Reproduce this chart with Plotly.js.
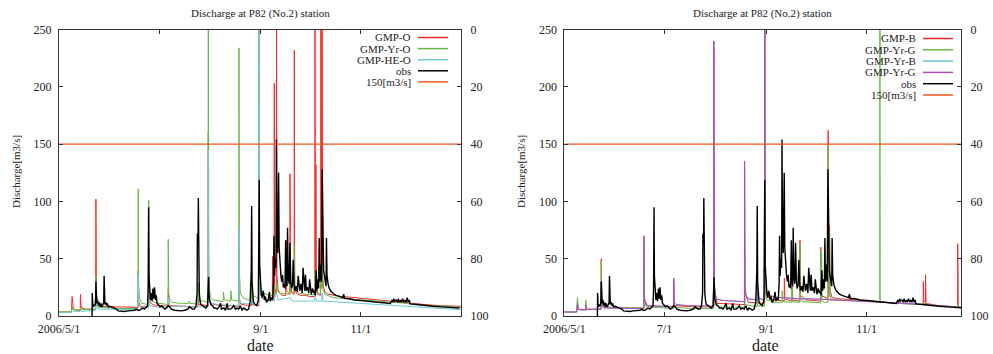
<!DOCTYPE html>
<html>
<head>
<meta charset="utf-8">
<script src="https://cdn.plot.ly/plotly-3.0.1.min.js"></script>
<style>html,body{margin:0;padding:0;background:#fff;}#chart{width:993px;height:354px;}</style>
</head>
<body>
<div id="chart"></div>
<script>
// ---------- DATA (time "MM-DD HH" in 2006, discharge m3/s) ----------
const tickVals = ["2006-05-01", "2006-07-01", "2006-09-01", "2006-11-01"];
const tickText = ["2006/5/1", "7/1", "9/1", "11/1"];
const leftNames = ["GMP-O", "GMP-Yr-O", "GMP-HE-O", "obs", "150[m3/s]"];
const rightNames = ["GMP-B", "GMP-Yr-G", "GMP-Yr-B", "GMP-Yr-G", "obs", "150[m3/s]"];
const thresholdValue = [150, 150];

const obs = [["05-21 04",0],["05-21 06",20],["05-21 14",9],["05-22 00",8],["05-22 12",10],["05-23 00",9],["05-23 08",16],["05-23 12",30],["05-23 18",13],["05-24 00",11],["05-24 12",14],["05-25 00",9],["05-25 12",12],["05-26 00",8],["05-26 12",11],["05-27 00",8],["05-27 12",9],["05-28 06",12],["05-28 12",35],["05-28 18",13],["05-29 00",10],["05-29 12",12],["05-30 00",9],["05-30 12",11],["05-31 00",8],["06-01 00",8.5],["06-02 00",8],["06-03 00",7.5],["06-04 00",7],["06-05 00",6],["06-06 00",4.5],["06-08 00",4],["06-10 00",4],["06-12 00",4.5],["06-14 00",4.5],["06-16 00",5],["06-17 00",6],["06-18 00",5],["06-19 00",5],["06-20 00",6],["06-21 00",7],["06-22 00",6],["06-23 00",8],["06-24 00",9],["06-24 08",25],["06-24 11",72],["06-24 13",60],["06-24 15",95],["06-24 20",35],["06-25 06",18],["06-25 18",14],["06-26 06",20],["06-26 18",13],["06-27 06",24],["06-27 18",15],["06-28 06",25],["06-28 18",14],["06-29 06",18],["06-29 18",11],["06-30 12",10],["07-01 12",8],["07-02 12",9],["07-03 12",7],["07-04 12",6],["07-05 12",7],["07-06 12",9],["07-07 12",8],["07-08 12",6],["07-10 12",5],["07-12 12",4.5],["07-14 12",4.5],["07-16 12",5],["07-18 12",6],["07-19 12",8],["07-20 12",7],["07-21 12",6],["07-22 12",6],["07-23 12",9],["07-24 04",20],["07-24 08",72],["07-24 12",45],["07-24 18",65],["07-24 22",103],["07-25 04",35],["07-25 12",20],["07-26 00",13],["07-26 12",10],["07-27 12",9],["07-28 12",8],["07-29 12",7],["07-30 12",9],["07-31 04",34],["07-31 12",16],["08-01 00",12],["08-01 12",10],["08-02 12",9],["08-03 12",7],["08-04 12",7],["08-05 12",6],["08-06 12",8],["08-07 12",11],["08-08 00",6],["08-09 12",7],["08-10 12",5],["08-11 12",11],["08-12 00",6],["08-13 12",6],["08-14 12",7],["08-15 12",9],["08-16 12",6],["08-17 12",7],["08-18 12",6],["08-19 12",9],["08-20 12",5],["08-21 12",7],["08-22 12",6],["08-23 12",5],["08-24 12",6],["08-25 12",12],["08-26 04",40],["08-26 10",96],["08-26 16",30],["08-27 00",18],["08-27 12",12],["08-28 12",10],["08-29 12",9],["08-30 12",14],["08-30 20",55],["08-31 00",119],["08-31 06",45],["08-31 18",28],["09-01 06",20],["09-01 18",16],["09-02 12",22],["09-03 06",14],["09-03 18",17],["09-04 12",12],["09-05 12",14],["09-06 06",21],["09-06 18",13],["09-07 12",16],["09-08 06",14],["09-08 18",30],["09-09 00",70],["09-09 08",35],["09-09 18",50],["09-10 06",42],["09-10 12",154],["09-10 18",80],["09-11 06",55],["09-11 20",125],["09-12 04",60],["09-12 18",42],["09-13 06",35],["09-13 18",30],["09-14 06",36],["09-14 18",25],["09-15 06",28],["09-15 18",24],["09-16 03",66],["09-16 12",30],["09-17 00",26],["09-17 07",77],["09-17 16",35],["09-18 06",28],["09-18 18",64],["09-19 06",30],["09-19 18",24],["09-20 06",27],["09-20 18",49],["09-21 06",28],["09-21 18",22],["09-22 12",26],["09-23 06",21],["09-23 18",35],["09-24 06",24],["09-24 18",22],["09-25 12",28],["09-26 06",20],["09-26 18",42],["09-27 06",25],["09-27 18",22],["09-28 06",36],["09-28 18",22],["09-29 12",25],["09-30 06",20],["09-30 18",32],["10-01 06",22],["10-01 18",19],["10-02 12",24],["10-03 06",20],["10-03 18",22],["10-04 06",18],["10-04 18",40],["10-05 06",22],["10-05 18",32],["10-06 06",24],["10-06 14",68],["10-06 22",30],["10-07 12",45],["10-08 00",30],["10-08 10",128],["10-08 18",55],["10-09 06",40],["10-09 18",35],["10-10 06",30],["10-10 18",26],["10-11 00",68],["10-11 08",35],["10-12 00",28],["10-12 12",25],["10-13 12",22],["10-14 12",20],["10-15 12",19],["10-17 00",18],["10-19 00",17],["10-21 00",16],["10-21 12",19],["10-22 00",15.5],["10-25 00",15],["10-28 00",14],["11-01 00",13.5],["11-05 00",13],["11-10 00",12],["11-15 00",11.5],["11-19 00",11],["11-20 00",14],["11-20 12",12],["11-21 00",15],["11-21 12",13],["11-22 12",14],["11-23 06",12],["11-23 18",15],["11-24 12",12],["11-25 06",14],["11-25 18",12],["11-26 12",15],["11-27 06",12],["11-27 18",14],["11-28 12",12],["11-29 06",16],["11-29 18",12],["11-30 12",14],["12-01 00",10.5],["12-05 00",10],["12-10 00",9],["12-15 00",8.5],["12-20 00",8],["12-25 00",7.5],["12-31 00",7]];

const gmpO = [["05-01 00",3.5],["05-08 12",3.5],["05-09 00",17],["05-09 06",9],["05-09 10",14],["05-09 18",7],["05-10 12",5.5],["05-12 00",5],["05-13 22",5],["05-14 02",19],["05-14 10",9],["05-15 00",7],["05-17 00",6],["05-20 00",6],["05-23 08",6],["05-23 12",102],["05-23 18",22],["05-24 06",13],["05-25 00",10],["05-27 00",8.5],["05-30 00",8],["06-05 00",8],["06-12 00",7.5],["06-18 04",7.5],["06-18 07",40],["06-18 14",12],["06-19 12",9],["06-21 00",8],["06-24 12",8],["06-24 16",60],["06-25 00",15],["06-26 00",11],["06-28 00",9.5],["07-01 00",9],["07-06 12",8.5],["07-06 14",25],["07-07 00",10],["07-08 00",9],["07-15 00",8.5],["07-24 18",8],["07-24 22",18],["07-25 06",10],["07-30 20",9],["07-31 00",160],["07-31 06",20],["08-01 00",12],["08-03 00",10],["08-10 00",9],["08-18 14",8.5],["08-18 17",60],["08-19 00",14],["08-20 00",10],["08-26 06",9],["08-26 10",25],["08-26 18",10],["08-30 20",9],["08-31 00",300],["08-31 06",30],["09-01 00",18],["09-03 00",15],["09-05 00",14],["09-08 00",14],["09-08 04",52],["09-08 10",18],["09-09 02",16],["09-09 05",203],["09-09 10",25],["09-10 10",19],["09-10 14",300],["09-10 20",35],["09-11 12",23],["09-12 12",20],["09-14 00",18],["09-16 04",18],["09-16 08",66],["09-16 14",22],["09-18 16",19],["09-18 19",124],["09-19 02",26],["09-20 00",20],["09-21 07",19],["09-21 10",232],["09-21 16",26],["09-22 12",20],["09-25 00",18],["09-28 00",18],["10-01 00",17],["10-03 22",17],["10-04 00",300],["10-04 06",30],["10-04 12",20],["10-04 14",132],["10-04 20",25],["10-05 12",19],["10-07 10",18],["10-07 14",300],["10-07 22",40],["10-08 04",30],["10-08 08",300],["10-08 16",35],["10-09 06",25],["10-10 00",21],["10-12 00",19],["10-15 00",18],["10-20 00",17],["10-25 00",16.5],["11-01 00",15.5],["11-10 00",14],["11-20 00",12.5],["12-01 00",11],["12-10 00",10],["12-20 00",9],["12-31 23",8.5]];

const gmpYrO = [["05-01 00",3.5],["05-08 12",3.5],["05-09 00",8],["05-09 12",5.5],["05-13 22",5],["05-14 02",8],["05-14 12",5.5],["05-20 00",5.5],["05-23 08",6],["05-23 12",35],["05-23 20",10],["05-25 00",7.5],["05-30 00",7],["06-10 00",6.5],["06-18 04",6.5],["06-18 07",111],["06-18 12",28],["06-19 00",15],["06-20 12",11],["06-24 12",10],["06-24 16",101],["06-25 00",22],["06-26 00",15],["06-28 00",12],["07-01 00",11],["07-06 12",10],["07-06 14",67],["07-06 20",20],["07-07 12",14],["07-09 00",12],["07-14 00",11],["07-19 00",11],["07-19 06",13],["07-19 18",11],["07-24 18",10.5],["07-24 22",29],["07-25 08",14],["07-30 20",12],["07-31 00",320],["07-31 06",40],["07-31 18",22],["08-01 12",16],["08-03 00",14],["08-06 00",13],["08-09 00",12.5],["08-09 06",21],["08-09 18",14],["08-13 12",13],["08-13 18",22],["08-14 06",14],["08-18 14",13],["08-18 17",234],["08-18 23",40],["08-19 12",20],["08-21 00",16],["08-24 00",14],["08-26 06",13.5],["08-26 10",38],["08-26 20",18],["08-30 20",15],["08-31 00",300],["08-31 06",45],["09-01 00",26],["09-02 00",21],["09-04 00",19],["09-07 00",18],["09-09 02",18],["09-09 05",26],["09-09 12",20],["09-10 10",19.5],["09-10 14",30],["09-11 00",22],["09-12 12",20],["09-15 00",19.5],["09-18 16",19],["09-18 19",36],["09-19 06",21],["09-21 07",20],["09-21 10",62],["09-21 18",24],["09-24 00",20],["09-28 00",19],["10-03 22",18.5],["10-04 00",40],["10-04 06",22],["10-07 10",19],["10-07 14",45],["10-07 22",24],["10-08 08",45],["10-08 16",24],["10-09 06",21],["10-10 00",19],["10-15 00",16],["10-25 00",15],["11-10 00",13],["11-25 00",11.5],["12-10 00",9.5],["12-31 23",7.5]];

const gmpHEO = [["05-01 00",3],["05-08 12",3],["05-09 00",5],["05-10 00",4],["05-13 22",4],["05-14 02",5],["05-15 00",4],["05-20 00",4.5],["05-23 08",5],["05-23 12",30],["05-23 18",8],["05-25 00",6],["06-10 00",5.5],["06-18 04",5.5],["06-18 07",36],["06-18 14",10],["06-19 12",7.5],["06-24 12",7],["06-24 16",20],["06-25 06",9],["07-01 00",7.5],["07-06 12",7],["07-06 14",16],["07-07 06",8.5],["07-20 00",8],["07-30 20",8],["07-31 00",145],["07-31 06",22],["08-01 00",12],["08-05 00",10],["08-18 14",9],["08-18 17",77],["08-18 23",15],["08-20 00",11],["08-26 06",10.5],["08-26 10",15],["08-27 00",10.5],["08-30 20",10],["08-31 00",300],["08-31 06",35],["09-01 00",18],["09-03 00",14],["09-09 02",13],["09-09 05",15],["09-10 14",20],["09-11 12",14],["09-18 19",16],["09-20 00",13],["10-03 22",13],["10-04 00",18],["10-05 00",13],["10-08 04",13],["10-08 08",20],["10-09 00",13],["10-15 00",12.5],["11-01 00",11],["11-15 00",9.5],["12-01 00",8],["12-15 00",7],["12-31 23",5.5]];

const gmpB = [["05-01 00",3.5],["05-08 12",3.5],["05-09 00",12],["05-09 12",6],["05-13 22",5.5],["05-14 02",11],["05-14 12",6],["05-20 00",6],["05-23 08",6],["05-23 12",50],["05-23 20",12],["05-25 00",8],["06-05 00",7],["06-18 10",7],["06-18 12",70],["06-18 18",15],["06-20 12",9],["07-01 00",8],["07-06 12",8],["07-06 14",30],["07-07 00",9],["07-20 00",8],["07-30 22",8],["07-31 00",235],["07-31 08",25],["08-02 00",11],["08-18 15",10],["08-18 17",130],["08-19 00",20],["08-21 00",12],["08-30 22",11],["08-31 00",300],["08-31 08",30],["09-02 00",16],["09-06 00",14],["09-11 20",13],["09-11 22",33],["09-12 06",15],["09-16 12",13],["09-16 14",30],["09-17 00",14],["09-21 08",13],["09-21 10",66],["09-21 18",18],["09-25 00",14],["10-04 00",13],["10-04 02",60],["10-04 10",18],["10-08 12",15],["10-08 14",162],["10-08 22",25],["10-09 08",20],["10-09 10",79],["10-09 18",22],["10-11 00",16],["10-15 00",15],["11-01 00",13.5],["11-20 00",11],["12-05 10",10],["12-05 12",30],["12-05 20",11],["12-06 18",10.5],["12-06 20",36],["12-07 04",11],["12-15 00",9],["12-26 08",8],["12-26 10",63],["12-26 18",9],["12-28 10",7.5]];

const gmpYrG = [["05-01 00",3.5],["05-08 12",3.5],["05-09 00",16],["05-09 12",7],["05-10 12",5.5],["05-13 22",5],["05-14 02",14],["05-14 12",6],["05-20 00",5.5],["05-23 08",6],["05-23 12",48],["05-23 20",11],["05-25 00",7.5],["06-05 00",7],["06-18 10",7],["06-18 12",40],["06-18 20",10],["06-20 00",8],["07-01 00",7],["07-06 12",6.5],["07-06 14",20],["07-07 00",7.5],["07-20 00",6.5],["07-30 22",6.5],["07-31 00",60],["07-31 08",10],["08-03 00",8],["08-18 15",7.5],["08-18 17",50],["08-19 00",10],["08-26 08",8],["08-26 10",25],["08-26 18",9],["08-30 22",8.5],["08-31 00",200],["08-31 08",20],["09-01 12",14],["09-05 00",12],["09-10 12",12],["09-10 14",22],["09-11 00",12.5],["09-16 12",12],["09-16 14",25],["09-17 00",12.5],["09-21 08",12],["09-21 10",63],["09-21 18",16],["09-23 00",12.5],["09-28 00",12],["10-04 00",11.5],["10-04 02",57],["10-04 08",14],["10-04 14",55],["10-04 20",13],["10-06 00",12],["10-08 12",12],["10-08 14",151],["10-08 22",22],["10-09 08",17],["10-09 10",75],["10-09 18",18],["10-10 12",14],["10-15 00",14],["11-01 00",13],["11-09 00",12.3],["11-09 02",300],["11-09 04",12.3],["11-20 00",11],["12-05 10",10],["12-05 12",12],["12-05 20",10],["12-06 20",12],["12-07 06",10],["12-15 00",9],["12-26 08",8],["12-26 10",11],["12-26 18",7.8],["12-28 10",7.5]];

const gmpYrG2 = [["05-01 00",3.5],["05-08 12",3.5],["05-09 00",10],["05-09 12",5.5],["05-13 22",5.5],["05-14 02",9],["05-14 12",5.5],["05-20 00",5.5],["05-23 08",6],["05-23 12",30],["05-23 20",9],["05-25 00",7],["06-05 00",6.5],["06-18 10",6.5],["06-18 12",67],["06-18 18",15],["06-19 12",10],["06-22 00",8.5],["07-01 00",8.5],["07-06 12",8],["07-06 14",33],["07-06 22",12],["07-08 00",10],["07-15 00",9],["07-30 22",8.5],["07-31 00",240],["07-31 06",30],["07-31 18",18],["08-02 00",14.5],["08-06 00",13.5],["08-12 00",13],["08-18 15",12.5],["08-18 17",135],["08-18 23",25],["08-19 12",18],["08-21 00",15],["08-26 08",14],["08-26 10",36],["08-26 18",16],["08-30 22",13.5],["08-31 00",300],["08-31 06",40],["09-01 00",22],["09-03 00",18],["09-06 00",16.5],["09-10 00",16],["09-15 00",15.5],["09-21 00",15],["09-28 00",15],["10-05 00",14.5],["10-10 00",14],["10-15 00",14],["11-01 00",13],["11-15 00",12],["12-01 00",10.5],["12-15 00",9],["12-28 10",7.5]];

const gmpYrB = gmpYrG2; // drawn beneath GMP-Yr-G (purple), hidden in the reference

// ---------- BUILD ----------
function T(s) { return "2006-" + (s.length > 5 ? s + ":00" : s); }
const X = a => a.map(p => T(p[0]));
const Y = a => a.map(p => p[1]);

const C = {red: "#f42a2a", green: "#66b844", cyan: "#70c8d8", purple: "#b04ab4", black: "#000000", thr: "#f2541e"};
const serif = "Liberation Serif, Times New Roman, serif";
const txt = "#222";

const leftRange = ["2006-05-01", "2007-01-01"];
const rightRange = ["2006-05-01", "2006-12-28 10:00"];

function line(arr, color, w, xa, ya) {
  return {x: X(arr), y: Y(arr), type: "scatter", mode: "lines", line: {color: color, width: w},
          xaxis: xa, yaxis: ya, showlegend: false, hoverinfo: "skip"};
}

const traces = [
  line(gmpO, C.red, 1, "x", "y"),
  line(gmpYrO, C.green, 1, "x", "y"),
  line(gmpHEO, C.cyan, 1, "x", "y"),
  line(obs, C.black, 1.4, "x", "y"),
  {x: leftRange, y: thresholdValue, type: "scatter", mode: "lines", line: {color: C.thr, width: 1.2}, xaxis: "x", yaxis: "y", showlegend: false, hoverinfo: "skip"},
  {x: [], y: [], type: "scatter", mode: "lines", xaxis: "x", yaxis: "y2", showlegend: false},
  line(gmpB, C.red, 1, "x2", "y3"),
  line(gmpYrG, C.green, 1, "x2", "y3"),
  line(gmpYrB, C.cyan, 1, "x2", "y3"),
  line(gmpYrG2, C.purple, 1, "x2", "y3"),
  line(obs, C.black, 1.4, "x2", "y3"),
  {x: rightRange, y: thresholdValue, type: "scatter", mode: "lines", line: {color: C.thr, width: 1.2}, xaxis: "x2", yaxis: "y3", showlegend: false, hoverinfo: "skip"},
  {x: [], y: [], type: "scatter", mode: "lines", xaxis: "x2", yaxis: "y4", showlegend: false}
];

const W = 993, H = 354;
const yDom = [(H - 316) / H, (H - 29.5) / H];
const lx = [59 / W, 461 / W], rx = [564.3 / W, 961 / W];
const tf = {family: serif, size: 12, color: txt};

function xAxis(dom, range, anchor) {
  return {domain: dom, anchor: anchor, type: "date", range: range, tickvals: tickVals, ticktext: tickText,
          ticks: "inside", ticklen: 4, tickcolor: "#333", showline: true, linecolor: "#333", linewidth: 1,
          mirror: "ticks", showgrid: false, zeroline: false, tickfont: tf, ticklabelstandoff: 2};
}
function yAxis(anchor) {
  return {domain: yDom, anchor: anchor, range: [0, 250], tickvals: [0, 50, 100, 150, 200, 250],
          ticks: "inside", ticklen: 4, tickcolor: "#333", showline: true, linecolor: "#333", linewidth: 1,
          showgrid: false, zeroline: false, tickfont: tf, ticklabelstandoff: 4};
}
function y2Axis(over, anchor) {
  return {overlaying: over, anchor: anchor, side: "right", range: [100, 0], tickvals: [0, 20, 40, 60, 80, 100],
          ticks: "inside", ticklen: 4, tickcolor: "#333", showline: true, linecolor: "#333", linewidth: 1,
          showgrid: false, zeroline: false, tickfont: tf, ticklabelstandoff: 6};
}

const ann = [];
const shapes = [];
function addText(text, x, y, opts) {
  ann.push(Object.assign({text: text, x: x / W, y: 1 - y / H, xref: "paper", yref: "paper", showarrow: false,
    font: {family: serif, size: 12, color: txt}, xanchor: "center", yanchor: "middle", borderpad: 0}, opts || {}));
}
addText("Discharge at P82 (No.2) station", 260, 14, {font: {family: serif, size: 11, color: txt}});
addText("Discharge at P82 (No.2) station", 762.5, 14, {font: {family: serif, size: 11, color: txt}});
addText("Discharge[m3/s]", 16, 172, {textangle: -90, font: {family: serif, size: 11, color: txt}});
addText("Discharge[m3/s]", 521, 172, {textangle: -90, font: {family: serif, size: 11, color: txt}});
addText("date", 260, 345, {font: {family: serif, size: 16, color: txt}});
addText("date", 765, 345, {font: {family: serif, size: 16, color: txt}});

// legends (text right-aligned, line sample to the right)
const legFont = {family: serif, size: 11, color: txt};
const leftColors = [C.red, C.green, C.cyan, C.black, C.thr];
leftNames.forEach((n, i) => {
  const yy = 37.5 + 11.1 * i;
  addText(n, 412, yy, {xanchor: "right", font: legFont});
  shapes.push({type: "line", xref: "paper", yref: "paper", x0: 418 / W, x1: 448 / W, y0: 1 - yy / H, y1: 1 - yy / H,
               line: {color: leftColors[i], width: 1.5}});
});
const rightColors = [C.red, C.green, C.cyan, C.purple, C.black, C.thr];
rightNames.forEach((n, i) => {
  const yy = 38.5 + 11.3 * i;
  addText(n, 917, yy, {xanchor: "right", font: legFont});
  shapes.push({type: "line", xref: "paper", yref: "paper", x0: 923 / W, x1: 953 / W, y0: 1 - yy / H, y1: 1 - yy / H,
               line: {color: rightColors[i], width: 1.5}});
});

const layout = {
  width: W, height: H, margin: {l: 0, r: 0, t: 0, b: 0}, paper_bgcolor: "#fff", plot_bgcolor: "#fff",
  showlegend: false, font: {family: serif, color: txt},
  xaxis: xAxis(lx, leftRange, "y"),
  yaxis: yAxis("x"),
  yaxis2: y2Axis("y", "x"),
  xaxis2: xAxis(rx, rightRange, "y3"),
  yaxis3: yAxis("x2"),
  yaxis4: y2Axis("y3", "x2"),
  annotations: ann, shapes: shapes
};
Plotly.newPlot("chart", traces, layout, {staticPlot: true, displayModeBar: false});
</script>
</body>
</html>
